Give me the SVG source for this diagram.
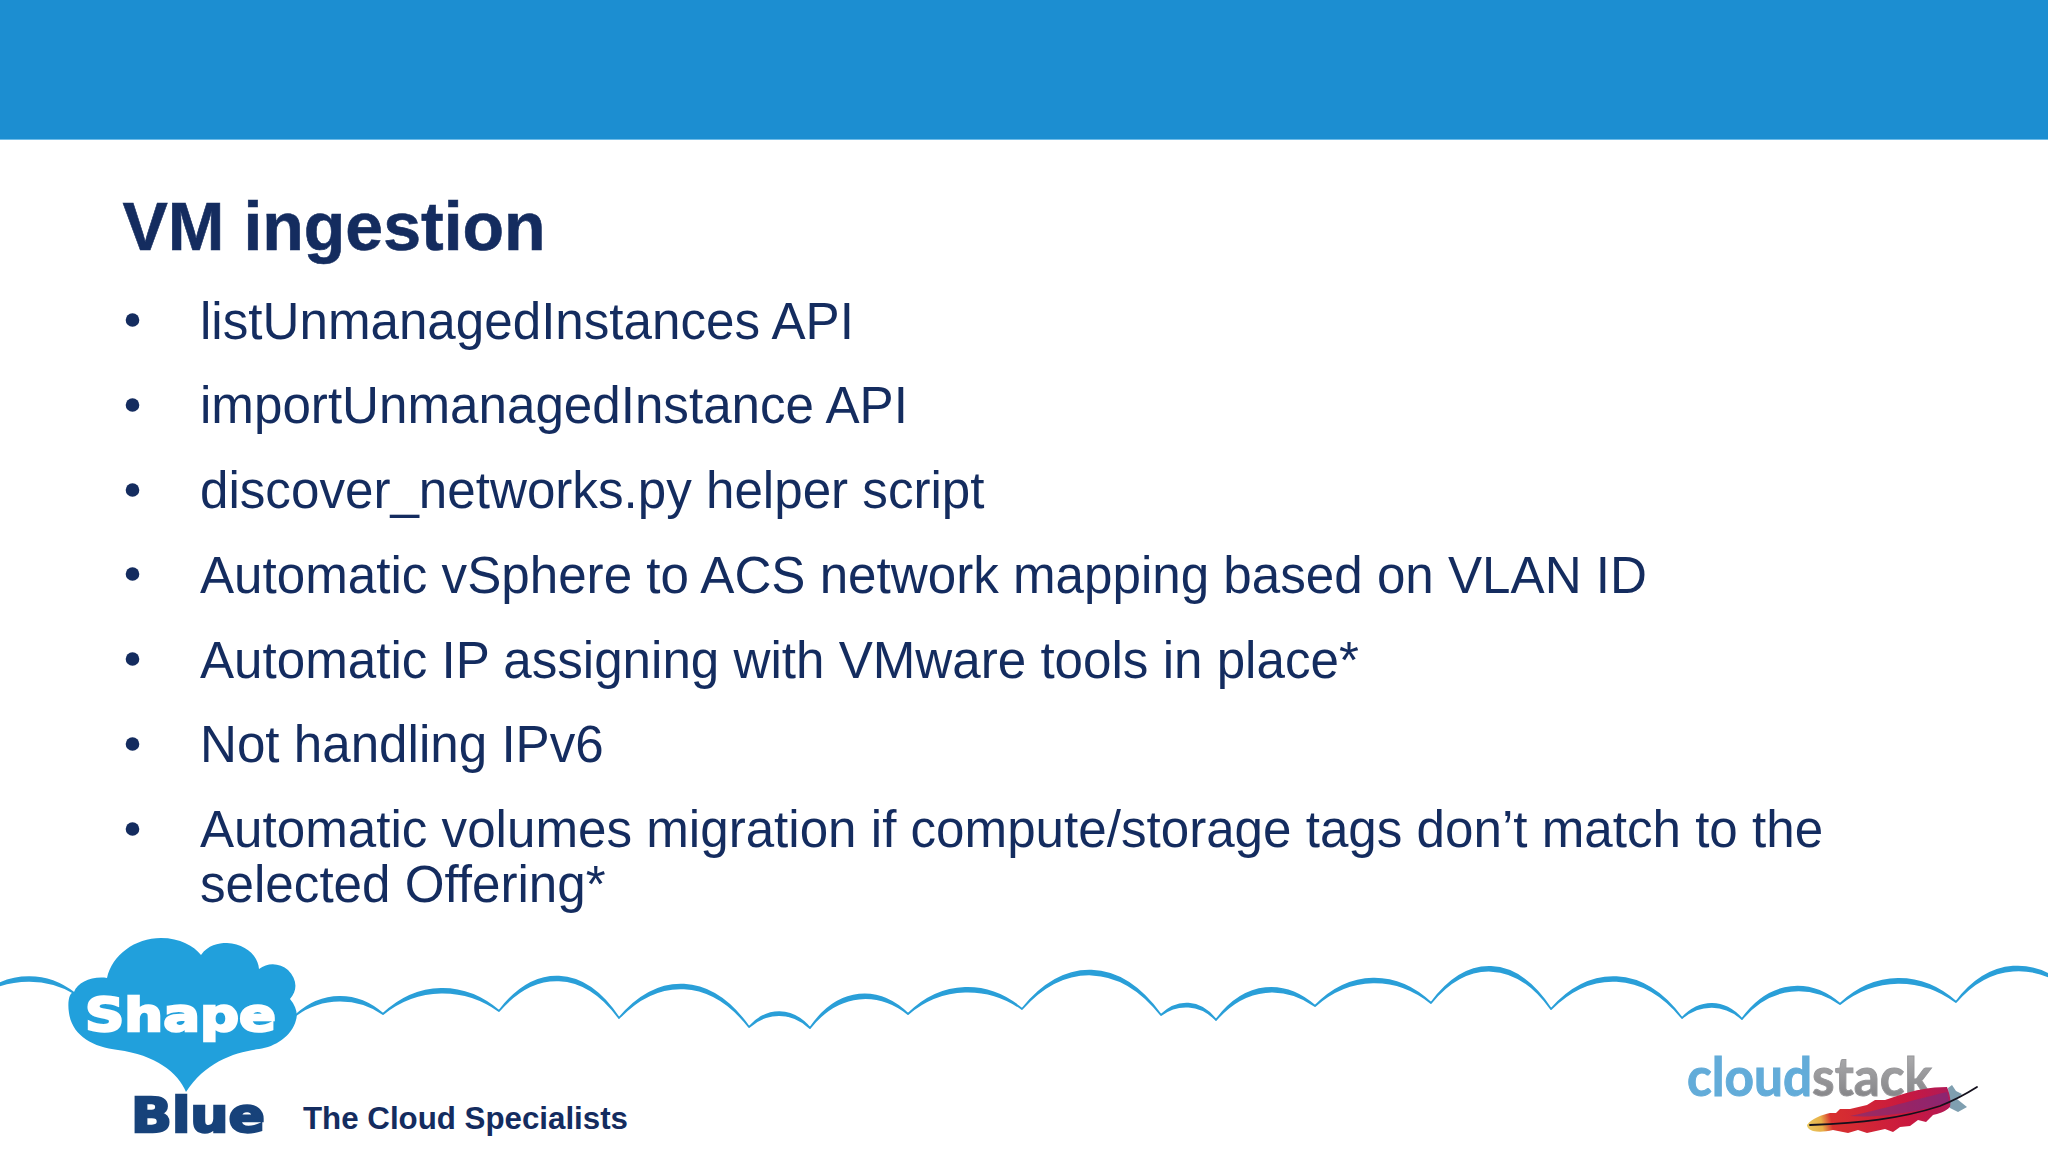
<svg xmlns="http://www.w3.org/2000/svg" width="2048" height="1152" viewBox="0 0 2048 1152">
<defs>
<style>
.b{font-family:"Liberation Sans",Arial,sans-serif;font-size:51.150px;fill:#142c5f}
.d{fill:#142c5f}
</style>
<linearGradient id="fg" x1="1807" y1="1125" x2="1950" y2="1095" gradientUnits="userSpaceOnUse">
<stop offset="0" stop-color="#e9c860"/><stop offset="0.1" stop-color="#e8b048"/><stop offset="0.17" stop-color="#d8302f"/><stop offset="0.7" stop-color="#c9183f"/><stop offset="1" stop-color="#b01a58"/>
</linearGradient>
<linearGradient id="gs" x1="0" y1="1057" x2="0" y2="1096" gradientUnits="userSpaceOnUse"><stop offset="0" stop-color="#a9a9ab"/><stop offset="1" stop-color="#87878a"/></linearGradient>
</defs>
<rect width="2048" height="1152" fill="#ffffff"/>
<rect id="header" width="2048" height="139" fill="#1c8ed1"/>
<rect x="0" y="139" width="2048" height="1" fill="#6fbce8"/>
<text id="title" x="122.500" y="250" font-family="'Liberation Sans',Arial,sans-serif" font-weight="700" font-size="68" fill="#142c5f" stroke="#142c5f" stroke-width="0.600">VM ingestion</text>
<g id="list">
<circle class="d" cx="132.500" cy="320" r="6.800"/><text class="b" x="200" y="338.600">listUnmanagedInstances API</text>
<circle class="d" cx="132.500" cy="405" r="6.800"/><text class="b" x="200" y="423.400">importUnmanagedInstance API</text>
<circle class="d" cx="132.500" cy="490" r="6.800"/><text class="b" x="200" y="508">discover_networks.py helper script</text>
<circle class="d" cx="132.500" cy="574" r="6.800"/><text class="b" x="200" y="592.700">Automatic vSphere to ACS network mapping based on VLAN ID</text>
<circle class="d" cx="132.500" cy="659" r="6.800"/><text class="b" x="200" y="677.500">Automatic IP assigning with VMware tools in place*</text>
<circle class="d" cx="132.500" cy="744" r="6.800"/><text class="b" x="200" y="762.300">Not handling IPv6</text>
<circle class="d" cx="132.500" cy="829" r="6.800"/><text class="b" x="200" y="847.300">Automatic volumes migration if compute/storage tags don’t match to the</text>
<text class="b" x="200" y="902.300">selected Offering*</text>
</g>
<path id="cloudline" fill="#2a9fd8" stroke="#2a9fd8" stroke-width="1.800" stroke-linejoin="round" d="
M-15 992C12 972 47 972 74 993C47 977 12 977 -15 992Z
M296 1015C322 991 357 991 383 1014C357 996 322 996 296 1015Z
M383 1014C418 981 464 981 499 1011C464 986 418 986 383 1014Z
M499 1011C535 964 583 964 619 1018C583 969 535 969 499 1011Z
M619 1018C658 972 710 972 749 1027C710 977 658 977 619 1018Z
M749 1027C767 1007 792 1007 810 1028C792 1011 767 1011 749 1027Z
M810 1028C839 986 879 986 908 1014C879 991 839 991 810 1028Z
M908 1014C942 980 988 980 1022 1009C988 985 942 985 908 1014Z
M1022 1009C1064 957 1119 957 1161 1015C1119 962 1064 962 1022 1009Z
M1161 1015C1177 999 1200 999 1216 1020C1200 1003 1177 1003 1161 1015Z
M1216 1020C1246 980 1285 980 1315 1006C1285 985 1246 985 1216 1020Z
M1315 1006C1350 970 1396 970 1431 1003C1396 975 1350 975 1315 1006Z
M1431 1003C1467 954 1515 954 1551 1009C1515 959 1467 959 1431 1003Z
M1551 1009C1590 965 1643 965 1682 1018C1643 970 1590 970 1551 1009Z
M1682 1018C1700 999 1724 999 1742 1019C1724 1003 1700 1003 1682 1018Z
M1742 1019C1771 979 1811 979 1840 1004C1811 984 1771 984 1742 1019Z
M1840 1004C1875 971 1921 971 1956 1002C1921 976 1875 976 1840 1004Z
M1956 1002C1990 957 2036 957 2070 990C2036 962 1990 962 1956 1002Z"/>
<g id="shapeblue-logo">
<path fill="#21a0dc" d="M186 1092C178 1072 155 1055 118 1050C92 1047 72 1035 69 1013C67 1000 70 992 74 992C78 982 92 976 107 978C112 955 135 938 161 938C180 938 194 946 201 955C208 945 218 943 227 943C245 944 258 955 259 969C268 962 280 963 288 970C297 979 298 990 290 999C296 1006 298 1014 296 1020C292 1036 275 1047 259 1049C235 1052 205 1062 186 1092Z"/>
<text x="85" y="1031" font-family="'DejaVu Sans',sans-serif" font-weight="700" font-size="46" fill="#ffffff" stroke="#ffffff" stroke-width="2.400" textLength="191" lengthAdjust="spacingAndGlyphs">Shape</text>
<text x="131" y="1132" font-family="'DejaVu Sans',sans-serif" font-weight="700" font-size="48" fill="#17427a" stroke="#17427a" stroke-width="2.400" textLength="134" lengthAdjust="spacingAndGlyphs">Blue</text>
<text x="303" y="1129" font-family="'Liberation Sans',Arial,sans-serif" font-weight="700" font-size="32" fill="#142c5f" textLength="325" lengthAdjust="spacingAndGlyphs">The Cloud Specialists</text>
</g>
<g id="cloudstack-logo">
<text x="1687" y="1096" font-family="Lato,'Open Sans',sans-serif" font-weight="700" font-size="54" stroke-width="1" textLength="245" lengthAdjust="spacingAndGlyphs"><tspan fill="#63acd9" stroke="#63acd9">cloud</tspan><tspan fill="url(#gs)" stroke="#97979a">stack</tspan></text>
<path fill="#7f9fb0" d="M1948 1088L1952 1085L1956 1091L1962 1094L1957 1099L1967 1107L1958 1112L1950 1108Z"/>
<path fill="url(#fg)" d="M1807 1125C1812 1118 1822 1115 1830 1113L1836 1113L1840 1109L1850 1109L1867 1105L1875 1100L1885 1100L1900 1095C1915 1090 1930 1087 1947 1087C1950 1095 1951 1100 1950 1107C1945 1112 1938 1114 1933 1115L1926 1122L1918 1120L1910 1126L1900 1127L1893 1132L1885 1129L1867 1133L1858 1130L1848 1133L1833 1130C1825 1132 1818 1132 1813 1131C1810 1130 1807 1128 1807 1125Z"/>
<path fill="#6d2f86" opacity="0.55" d="M1850 1116C1875 1111 1905 1102 1947 1092L1949 1102C1915 1113 1880 1118 1850 1116Z"/>
<path fill="none" stroke="#14101c" stroke-width="1.800" stroke-linecap="round" d="M1810 1125C1860 1123 1900 1119 1940 1106C1955 1100 1966 1094 1977 1087"/>
</g>
</svg>
